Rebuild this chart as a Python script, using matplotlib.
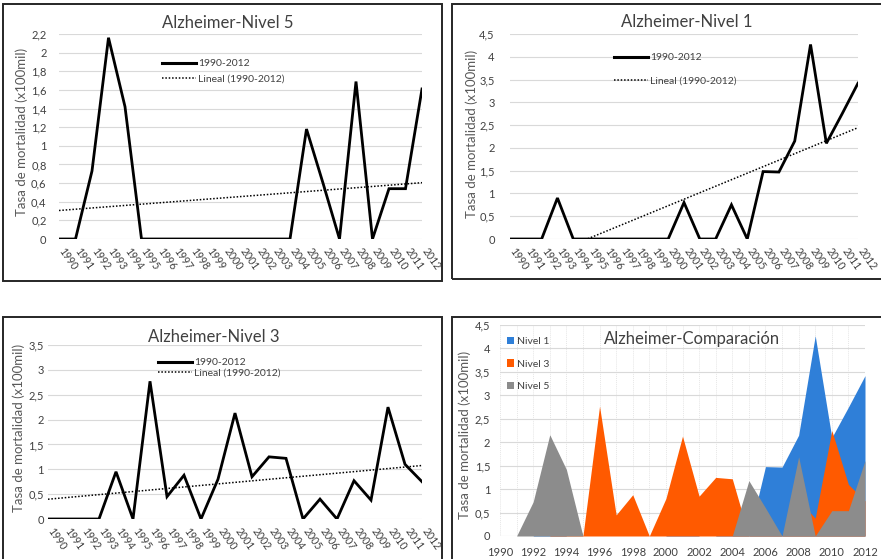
import numpy as np
import matplotlib
matplotlib.use("Agg")
import matplotlib.pyplot as plt
from matplotlib.patches import Rectangle
from matplotlib.lines import Line2D
from matplotlib.ticker import FuncFormatter, MultipleLocator
from matplotlib.transforms import ScaledTranslation

plt.rcParams["font.family"] = ["Lato", "DejaVu Sans"]

# datos (tasa x100mil)
years = list(range(1990, 2013))
nivel5 = [0, 0, 0.73, 2.16, 1.42, 0, 0, 0, 0, 0, 0, 0, 0, 0, 0,
          1.18, 0.60, 0, 1.69, 0, 0.54, 0.54, 1.61]
nivel1 = [0, 0, 0, 0.90, 0, 0, 0, 0, 0, 0, 0, 0.80, 0, 0, 0.75,
          0, 1.48, 1.47, 2.15, 4.27, 2.10, 2.75, 3.42]
nivel3 = [0, 0, 0, 0, 0.95, 0, 2.77, 0.45, 0.88, 0, 0.80, 2.13, 0.85,
          1.25, 1.22, 0, 0.40, 0, 0.77, 0.38, 2.25, 1.10, 0.75]

W, H = 881, 559
fig = plt.figure(figsize=(W / 100, H / 100), dpi=100)

TXT = "#404040"
GRID = "#D9D9D9"
YLABEL = "Tasa de mortalidad (x100mil)"


def fx(x):
    return x / W


def fy(y):
    return 1 - y / H


def px_axes(left, top, right, bottom):
    return fig.add_axes([fx(left), fy(bottom), (right - left) / W, (bottom - top) / H])


def border(left, top, right, bottom):
    fig.patches.append(Rectangle((fx(left), fy(bottom)), (right - left) / W,
                                 (bottom - top) / H, transform=fig.transFigure,
                                 fill=False, edgecolor="#262626", lw=1.4))


comma = FuncFormatter(lambda v, p: f"{v:g}".replace(".", ","))


def style(ax, ymax, step, ypad):
    ax.set_xlim(1990, 2012)
    ax.set_ylim(0, ymax)
    ax.yaxis.set_major_locator(MultipleLocator(step))
    ax.yaxis.set_major_formatter(comma)
    for s in ax.spines.values():
        s.set_visible(False)
    ax.grid(axis="y", color=GRID, lw=0.8)
    ax.set_axisbelow(True)
    ax.tick_params(length=0, labelsize=8, labelcolor=TXT)
    ax.tick_params(axis="y", pad=ypad)


def line_panel(box, axbox, serie, ymax, step, ypad, title, tpos, ylpos, legpos, legspace):
    border(*box)
    ax = px_axes(*axbox)
    style(ax, ymax, step, ypad)
    ax.plot(years, serie, color="black", lw=2.0, solid_joinstyle="miter")
    coef = np.polyfit(years, serie, 1)
    trend = np.polyval(coef, years)
    ax.plot(years, trend, color="black", lw=1.1, ls=(0, (1, 1.2)))
    ax.set_xticks(years)
    ax.set_xticklabels([str(y) for y in years], rotation=-55, ha="left",
                       va="center", rotation_mode="anchor", fontsize=7.6)
    ax.tick_params(axis="x", pad=7)
    shift = ScaledTranslation(2 / 100, 0, fig.dpi_scale_trans)
    for lab in ax.get_xticklabels():
        lab.set_transform(lab.get_transform() + shift)
    handles = [Line2D([], [], color="black", lw=2.2),
               Line2D([], [], color="black", lw=1.1, ls=(0, (1, 1.2)))]
    leg = ax.legend(handles, ["1990-2012", "Lineal (1990-2012)"], loc="upper left",
                    bbox_to_anchor=(fx(legpos[0]), fy(legpos[1])),
                    bbox_transform=fig.transFigure, frameon=False, fontsize=7.5,
                    handlelength=3.3, handletextpad=0.2, borderpad=0,
                    borderaxespad=0, labelspacing=legspace)
    for t in leg.get_texts():
        t.set_color(TXT)
    fig.text(fx(tpos[0]), fy(tpos[1]), title, ha="center", va="center",
             fontsize=12, color=TXT)
    fig.text(fx(ylpos[0]), fy(ylpos[1]), YLABEL, ha="center", va="center",
             rotation=90, fontsize=9.5, color="#595959")
    return ax


line_panel((3, 4, 442, 281), (59, 34, 422, 239), nivel5, 2.2, 0.2, 9,
           "Alzheimer-Nivel 5", (228, 23), (22, 132), (162, 59), 0.55)
line_panel((452, 4, 900, 279), (510, 34, 858, 239), nivel1, 4.5, 0.5, 11,
           "Alzheimer-Nivel 1", (687, 22), (472, 134), (614, 53), 1.35)
line_panel((3, 317, 442, 580), (48, 345, 422, 519), nivel3, 3.5, 0.5, 3,
           "Alzheimer-Nivel 3", (214, 337), (19, 428), (158, 358), 0.1)

# panel de comparación (áreas superpuestas)
border(452, 317, 900, 580)
ax4 = px_axes(500, 325, 865, 536)
style(ax4, 4.5, 0.5, 7)
ax4.grid(axis="x", color="#E6E6E6", lw=0.7, ls=(0, (1, 1)))
ax4.set_xticks(years)
ax4.set_xticklabels([str(y) if y % 2 == 0 else "" for y in years])
ax4.tick_params(axis="x", pad=8)
colors = {"Nivel 1": "#2F7FD8", "Nivel 3": "#FF5A00", "Nivel 5": "#8C8C8C"}
for name, serie in [("Nivel 1", nivel1), ("Nivel 3", nivel3), ("Nivel 5", nivel5)]:
    ax4.fill_between(years, serie, 0, color=colors[name], lw=0, label=name)
leg4 = ax4.legend(loc="upper left", bbox_to_anchor=(fx(507), fy(337)),
                  bbox_transform=fig.transFigure, frameon=False, fontsize=7.5,
                  handlelength=0.7, handleheight=0.7, handletextpad=0.3,
                  borderpad=0, borderaxespad=0, labelspacing=1.25)
for t in leg4.get_texts():
    t.set_color(TXT)
fig.text(fx(692), fy(339), "Alzheimer-Comparación", ha="center", va="center",
         fontsize=12, color=TXT)
fig.text(fx(465), fy(435), YLABEL, ha="center", va="center", rotation=90,
         fontsize=9.5, color="#595959")

fig.savefig("out.png", dpi=100)
